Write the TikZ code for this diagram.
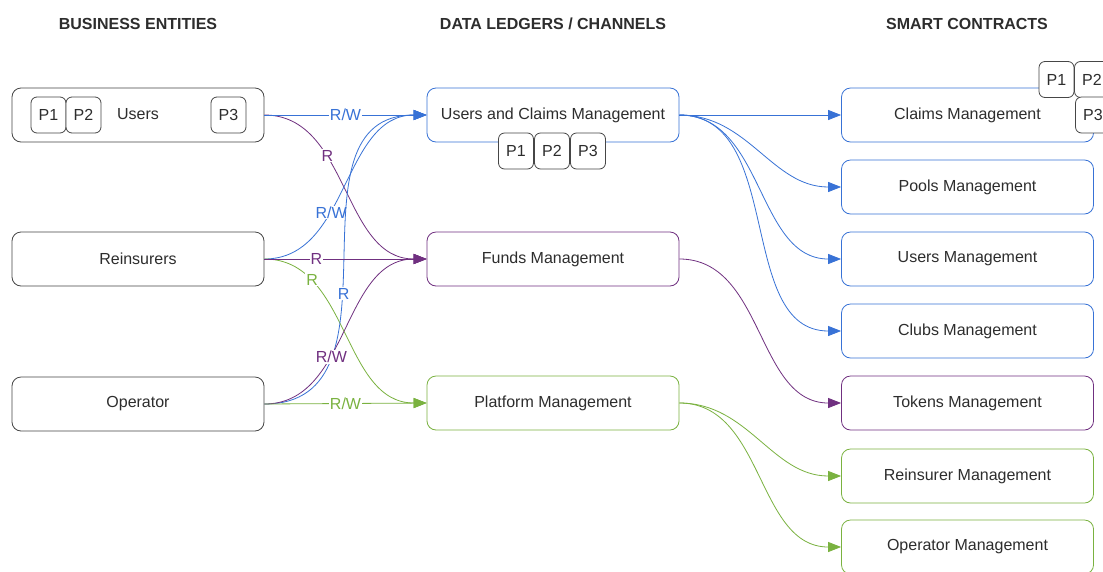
\documentclass[tikz,border=0pt]{standalone}
\usepackage{fontspec}
\setmainfont{Liberation Sans}
\usetikzlibrary{arrows.meta}
\definecolor{cblue}{RGB}{56,114,214}
\definecolor{cpurple}{RGB}{112,48,128}
\definecolor{cgreen}{RGB}{122,178,64}
\definecolor{cgray}{RGB}{70,70,70}
\definecolor{ctext}{RGB}{45,45,45}
\tikzset{
  box/.style={draw=#1, rounded corners=9pt, minimum width=252pt, minimum height=54pt,
    fill=white, text=ctext, font=\fontsize{16}{19}\selectfont, line width=0.8pt, inner sep=0pt},
  pbox/.style={draw=cgray, rounded corners=6pt, minimum width=35pt, minimum height=36pt,
    fill=white, text=ctext, font=\fontsize{16}{19}\selectfont, line width=0.8pt, inner sep=0pt},
  conn/.style={draw=#1, line width=0.8pt, -{Triangle[length=13pt,width=10pt]}},
  lbl/.style={fill=white, text=#1, font=\fontsize{16}{19}\selectfont, inner sep=1pt},
  hdr/.style={font=\bfseries\fontsize{16}{19}\selectfont, text=ctext},
}
\begin{document}
\begin{tikzpicture}[x=1pt,y=-1pt]
\useasboundingbox (0,0) rectangle (1103,571);
\clip (0,0) rectangle (1103,571);
\fill[white] (0,0) rectangle (1103,571);

% headers
\node[hdr] (h1) at (138,24) {BUSINESS ENTITIES};
\node[hdr] (h2) at (553,24) {DATA LEDGERS / CHANNELS};
\node[hdr] (h3) at (967,24) {SMART CONTRACTS};

% left boxes
\node[box=cgray] (ue) at (138,115) {};
\node[box=cgray] (re) at (138,259) {Reinsurers};
\node[box=cgray] (op) at (138,404) {Operator};
\node[pbox] (up1) at (48.5,115) {P1};
\node[pbox] (up2) at (83.5,115) {P2};
\node[text=ctext, font=\fontsize{16}{19}\selectfont] (ut) at (138,114) {Users};
\node[pbox] (up3) at (228.5,115) {P3};

% middle boxes
\node[box=cblue] (uc) at (553,115) {Users and Claims Management};
\node[box=cpurple] (fm) at (553,259) {Funds Management};
\node[box=cgreen] (pm) at (553,403) {Platform Management};
\node[pbox] (mp1) at (516,151) {P1};
\node[pbox] (mp2) at (552,151) {P2};
\node[pbox] (mp3) at (588,151) {P3};

% right boxes
\node[box=cblue] (cm) at (967.5,115) {Claims Management};
\node[box=cblue] (plm) at (967.5,187) {Pools Management};
\node[box=cblue] (usm) at (967.5,259) {Users Management};
\node[box=cblue] (clm) at (967.5,331) {Clubs Management};
\node[box=cpurple] (tm) at (967.5,403) {Tokens Management};
\node[box=cgreen] (rm) at (967.5,476) {Reinsurer Management};
\node[box=cgreen] (om) at (967.5,547) {Operator Management};
\node[pbox] (rp1) at (1056.5,79.5) {P1};
\node[pbox] (rp2) at (1092,79.5) {P2};
\node[pbox] (rp3) at (1093,115) {P3};

% left connectors
\draw[conn=cpurple] (ue.east) to[out=0,in=180] node[lbl=cpurple,pos=.35]{R} (fm.west);
\draw[conn=cblue] (re.east) to[out=0,in=180] node[lbl=cblue,pos=.38]{R/W} (uc.west);
\draw[conn=cgreen] (re.east) to[out=0,in=180] node[lbl=cgreen,pos=.24]{R} (pm.west);
\draw[conn=cblue] (op.east) to[out=0,in=180,looseness=1.15] node[lbl=cblue,pos=.42]{R} (uc.west);
\draw[conn=cpurple] (op.east) to[out=0,in=180] node[lbl=cpurple,pos=.38]{R/W} (fm.west);
\draw[conn=cblue] (ue.east) -- node[lbl=cblue]{R/W} (uc.west);
\draw[conn=cpurple] (re.east) -- node[lbl=cpurple,pos=.32]{R} (fm.west);
\draw[conn=cgreen] (op.east) -- node[lbl=cgreen]{R/W} (pm.west);

% right connectors
\draw[conn=cblue] (uc.east) -- (cm.west);
\draw[conn=cblue] (uc.east) to[out=0,in=180] (plm.west);
\draw[conn=cblue] (uc.east) to[out=0,in=180] (usm.west);
\draw[conn=cblue] (uc.east) to[out=0,in=180] (clm.west);
\draw[conn=cpurple] (fm.east) to[out=0,in=180] (tm.west);
\draw[conn=cgreen] (pm.east) to[out=0,in=180] (rm.west);
\draw[conn=cgreen] (pm.east) to[out=0,in=180] (om.west);
\end{tikzpicture}
\end{document}
